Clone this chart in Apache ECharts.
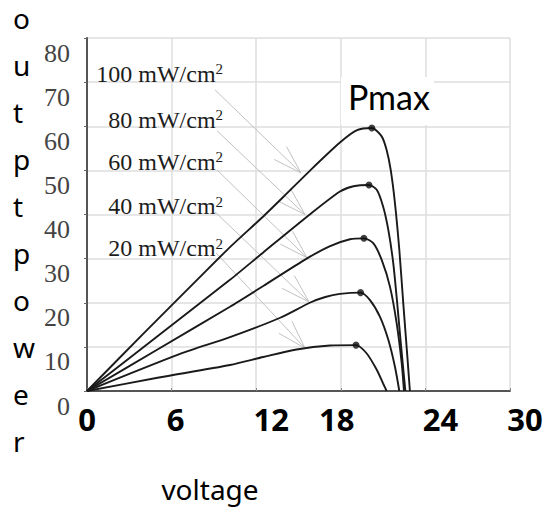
<!DOCTYPE html>
<html>
<head>
<meta charset="utf-8">
<script src="https://cdn.jsdelivr.net/npm/echarts@6/dist/echarts.min.js"></script>
<style>html,body{margin:0;padding:0;background:#fff}#c{width:546px;height:509px}</style>
</head>
<body>
<div id="c"></div>
<script>
// ---- data (voltage V, output power) ----
const voltageTicks = [0, 6, 12, 18, 24, 30];
const powerTicks = [0, 10, 20, 30, 40, 50, 60, 70, 80];
const irradiance = ['100', '80', '60', '40', '20'];
const yTitleLetters = ['o', 'u', 't', 'p', 't', 'p', 'o', 'w', 'e', 'r'];

const curve100 = [[0,0],[4,13.0],[8,25.8],[10.14,32.6],[12.48,39.5],[13.9,43.9],[15.8,49.9],[17.94,56.3],[19.15,59.1],[20.2,59.6],[20.9,57.7],[21.25,54.6],[21.54,50.1],[21.84,42.6],[22.15,32.0],[22.43,19.9],[22.72,7.8],[22.9,0]];
const curve80  = [[0,0],[5,12.4],[10.14,25.2],[12.5,31.4],[15.8,40.0],[17.94,45.2],[18.9,46.4],[20.0,46.7],[20.55,45.6],[21.0,41.8],[21.37,36.5],[21.72,29.0],[22.0,19.9],[22.3,9.3],[22.58,0]];
const curve60  = [[0,0],[5,9.4],[10.14,19.1],[12.5,23.8],[15.58,30.0],[17.2,32.8],[18.65,34.4],[19.64,34.6],[20.3,33.5],[20.9,29.7],[21.49,23.6],[21.96,15.4],[22.32,6.3],[22.48,0]];
const curve40  = [[0,0],[6.6,8.4],[10.14,12.2],[13.7,16.6],[15.8,20.0],[16.9,21.3],[17.94,22.0],[19.4,22.3],[20.07,20.6],[20.78,16.8],[21.37,11.6],[21.84,5.5],[22.15,0]];
const curve20  = [[0,0],[5,3.0],[10.14,5.9],[12.5,7.7],[14.87,9.4],[17.23,10.3],[19.08,10.4],[19.84,8.5],[20.55,4.8],[21.0,1.7],[21.25,0]];

const pmaxVoltage = [20.2, 20.0, 19.64, 19.4, 19.08];
const pmaxPower   = [59.6, 46.7, 34.6, 22.3, 10.4];

// annotation anchors (data units): arrow start, arrow end, label right edge
const arrowStart = [[9.08,68.25],[9.22,59.0],[9.22,50.1],[9.08,40.6],[9.15,31.3]];
const arrowEnd   = [[15.18,49.4],[15.46,40.0],[15.6,30.2],[15.74,20.2],[15.46,9.7]];
const labelAnchor = [[9.65,71.9],[9.65,61.45],[9.65,51.9],[9.65,41.9],[9.65,32.4]];

const chart = echarts.init(document.getElementById('c'), null, {renderer: 'svg'});

const lineStyle = {color: '#1a1a1a', width: 1.9};
function curveSeries(data) {
  return {type: 'line', data: data, showSymbol: false, smooth: 0.25,
          lineStyle: lineStyle, z: 3, silent: true};
}

const xShift = {0: 'c0', 6: 'r4', 12: 'r15', 18: 'l4', 24: 'r15', 30: 'r15'};
const xFont = {fontFamily: 'Noto Sans', fontWeight: 'bold', fontSize: 31, color: '#000'};

const graphics = yTitleLetters.map((ch, i) => ({
  type: 'text', x: 13, y: 18 + i * 47, z: 10,
  style: {text: ch, font: '28px "Noto Sans"', lineHeight: 30, fill: '#000',
          textAlign: 'left', textVerticalAlign: 'middle'}
}));
graphics.push(
  {type: 'text', x: 210, y: 489, z: 10,
   style: {text: 'voltage', font: '28px "Noto Sans"', lineHeight: 28, fill: '#000',
           textAlign: 'center', textVerticalAlign: 'middle'}},
  {type: 'text', x: 341, y: 77, z: 1,
   style: {text: 'Pmax', font: '34px Lato', fill: '#000', lineHeight: 34,
           backgroundColor: '#fff', padding: [2, 4, 12, 7],
           textAlign: 'left', textVerticalAlign: 'top'}}
);

const option = {
  animation: false,
  grid: {left: 87, right: 36, top: 38, bottom: 118, containLabel: false},
  xAxis: {
    type: 'value', min: voltageTicks[0], max: voltageTicks[voltageTicks.length - 1],
    interval: voltageTicks[1] - voltageTicks[0],
    axisLine: {show: true, lineStyle: {color: '#555', width: 2}},
    axisTick: {show: true, inside: true, length: 3, lineStyle: {color: '#888'}},
    splitLine: {show: true, lineStyle: {color: '#dedede', width: 1.5}},
    axisLabel: {
      margin: 12,
      formatter: v => '{' + (xShift[v] || 'c0') + '|' + v + '}',
      rich: {
        c0: Object.assign({}, xFont),
        r4: Object.assign({padding: [0, 0, 0, 8]}, xFont),
        r15: Object.assign({padding: [0, 0, 0, 30]}, xFont),
        l4: Object.assign({padding: [0, 8, 0, 0]}, xFont)
      }
    }
  },
  yAxis: {
    type: 'value', min: powerTicks[0], max: powerTicks[powerTicks.length - 1],
    interval: powerTicks[1] - powerTicks[0],
    axisLine: {show: true, lineStyle: {color: '#555', width: 2}},
    axisTick: {show: true, inside: false, length: 3, lineStyle: {color: '#666'}},
    splitLine: {show: true, lineStyle: {color: '#dedede', width: 1.5}},
    axisLabel: {
      margin: 17, fontFamily: 'Liberation Serif', fontSize: 26, color: '#444',
      verticalAlign: 'top', lineHeight: 26, padding: [2, 0, 0, 0]
    }
  },
  graphic: graphics,
  series: [
    {
      type: 'custom', z: 1, silent: true,
      data: arrowStart.map((s, i) => [s[0], s[1], arrowEnd[i][0], arrowEnd[i][1], labelAnchor[i][0], labelAnchor[i][1]]),
      renderItem: function (params, api) {
        const i = params.dataIndex;
        const s = api.coord([api.value(0), api.value(1)]);
        const e = api.coord([api.value(2), api.value(3)]);
        const t = api.coord([api.value(4), api.value(5)]);
        const ang = Math.atan2(e[1] - s[1], e[0] - s[0]);
        const L = 30, h = 0.3;
        const h1 = [e[0] - L * Math.cos(ang - h), e[1] - L * Math.sin(ang - h)];
        const h2 = [e[0] - L * Math.cos(ang + h), e[1] - L * Math.sin(ang + h)];
        const stroke = '#c2c2c2';
        return {
          type: 'group',
          children: [
            {type: 'line', shape: {x1: s[0], y1: s[1], x2: e[0], y2: e[1]}, style: {stroke: stroke, lineWidth: 1}},
            {type: 'polyline', shape: {points: [h1, e, h2]}, style: {stroke: stroke, fill: null, lineWidth: 1}},
            {type: 'text', x: t[0], y: t[1],
             style: {
               text: '{n|' + irradiance[i] + ' mW/cm}{s|2}',
               align: 'right', verticalAlign: 'middle',
               rich: {
                 n: {fontFamily: 'Liberation Serif', fontSize: 24, lineHeight: 24, fill: '#1c1c1c', color: '#1c1c1c'},
                 s: {fontFamily: 'Liberation Serif', fontSize: 15, lineHeight: 15, verticalAlign: 'top', fill: '#1c1c1c', color: '#1c1c1c'}
               }
             }}
          ]
        };
      }
    },
    curveSeries(curve100),
    curveSeries(curve80),
    curveSeries(curve60),
    curveSeries(curve40),
    curveSeries(curve20),
    {
      type: 'scatter', z: 4, silent: true, symbol: 'circle', symbolSize: 7,
      itemStyle: {color: '#111'},
      data: pmaxVoltage.map((v, i) => [v, pmaxPower[i]])
    }
  ]
};
chart.setOption(option);
</script>
</body>
</html>
